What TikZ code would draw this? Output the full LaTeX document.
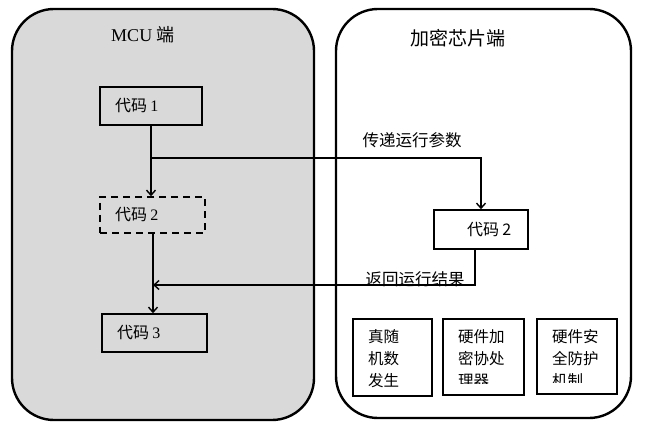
\documentclass[tikz,border=0pt]{standalone}
\usepackage{fontspec}
\setmainfont{Liberation Serif}
\newfontfamily\cjk{Noto Sans CJK SC}
\usetikzlibrary{arrows.meta}
\begin{document}
\begin{tikzpicture}[x=1pt,y=-1pt,
  side/.style={draw=black,line width=2.4pt,rounded corners=42pt},
  codebox/.style={draw=black,line width=1.6pt,inner sep=0pt,align=left,anchor=center},
  hwbox/.style={draw=black,line width=1.6pt,inner sep=0pt},
  arr/.style={line width=1.6pt,-{Straight Barb[length=5pt,width=9pt,line width=1.4pt]}},
  lbl/.style={font=\cjk\fontsize{16.5}{18}\selectfont,inner sep=0pt},
  hwtxt/.style={font=\cjk\fontsize{15.5}{22}\selectfont,inner sep=0pt,align=left,anchor=north west}]
\useasboundingbox (0,0) rectangle (660,435);
% sides
\draw[side,fill={rgb,255:red,217;green,217;blue,217}] (12,9) rectangle (314,420);
\draw[side] (336,9) rectangle (631,418);
\node[inner sep=0pt] (t1) at (143,35) {\fontsize{18}{20}\selectfont MCU {\cjk 端}};
\node[lbl,font=\cjk\fontsize{19}{22}\selectfont] (t2) at (458,38) {加密芯片端};
% code boxes
\node[codebox,minimum width=102pt,minimum height=38pt,text width=102pt] (c1) at (151,106)
  {\hspace*{15pt}{\cjk\fontsize{16}{18}\selectfont 代码} {\fontsize{16}{18}\selectfont 1}};
\node[codebox,dashed,dash pattern=on 7pt off 5pt,minimum width=105pt,minimum height=36pt,text width=105pt] (c2) at (152.5,215)
  {\hspace*{15pt}{\cjk\fontsize{16}{18}\selectfont 代码} {\fontsize{16}{18}\selectfont 2}};
\node[codebox,minimum width=105pt,minimum height=38pt,text width=105pt] (c3) at (154.5,333)
  {\hspace*{15pt}{\cjk\fontsize{16}{18}\selectfont 代码} {\fontsize{16}{18}\selectfont 3}};
\node[codebox,minimum width=94pt,minimum height=39pt,text width=94pt] (r2) at (481,229.5)
  {\hspace*{33pt}{\cjk\fontsize{16}{18}\selectfont 代码 2}};
% hardware boxes
\node[hwbox,minimum width=79pt,minimum height=77pt] (ha) at (392.5,357.5) {};
\node[hwbox,minimum width=81pt,minimum height=76pt] (hb) at (483.5,357) {};
\node[hwbox,minimum width=80pt,minimum height=75pt] (hc) at (577,356.5) {};
\begin{scope}
  \clip (355,321) rectangle (430,391);
  \node[hwtxt] (ta) at (368,329) {真随\\机数\\发生};
\end{scope}
\begin{scope}
  \clip (445,321) rectangle (522,383);
  \node[hwtxt] (tb) at (458,329) {硬件加\\密协处\\理器};
\end{scope}
\begin{scope}
  \clip (539,321) rectangle (615,382);
  \node[hwtxt] (tc) at (552,329) {硬件安\\全防护\\机制};
\end{scope}
% connectors
\coordinate (b1) at (151,158);
\coordinate (j1) at (153,285);
\draw[arr] (c1.south) -- (c1.south |- c2.north);
\draw[line width=1.6pt] (c1.south) -- (b1);
\draw[arr] (b1) -| (r2.north);
\draw[arr] (c2.south -| j1) -- (c3.north -| j1);
\draw[arr] ([xshift=-6pt]r2.south) |- (j1);
\node[lbl] (l1) at (412,140) {传递运行参数};
\node[lbl] (l2) at (415,279) {返回运行结果};
\end{tikzpicture}
\end{document}
